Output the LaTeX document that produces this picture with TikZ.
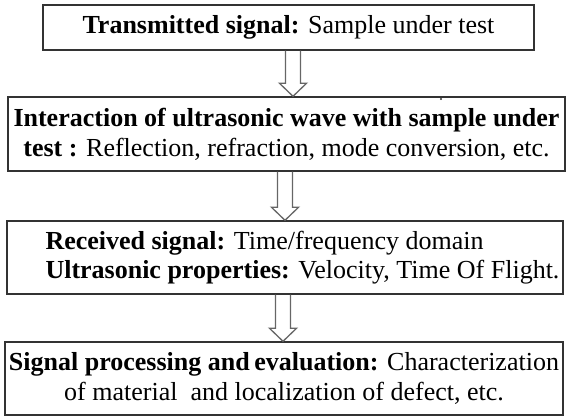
\documentclass[tikz,border=0pt]{standalone}
\usepackage{fontspec}
\setmainfont{Liberation Serif}
\usetikzlibrary{calc}
% hollow block arrow from the bottom of one box to the top of the next, at x = #3
\newcommand\hollowarrow[3]{%
  \draw[hollow] let \p1=(#1.south), \p2=(#2.north) in
    (#3-7.5,\y1) -- (#3-7.5,\y2+13) -- (#3-13.5,\y2+13) -- (#3,\y2)
    -- (#3+13.5,\y2+13) -- (#3+7.5,\y2+13) -- (#3+7.5,\y1);}
\begin{document}
\begin{tikzpicture}[x=1pt,y=1pt,
  box/.style={draw=black!80, line width=1.4pt, rectangle, inner sep=0pt,
    align=center, font=\fontsize{26}{30}\selectfont},
  boxtext/.style={inner sep=0pt, align=left, font=\fontsize{26}{29}\selectfont},
  hollow/.style={draw=black!60, line width=1.3pt, line join=miter}]
\useasboundingbox (0,0) rectangle (566,416);

\node[box, minimum width=491, minimum height=45] (b1) at (288.5,388.5)
  {\textbf{Transmitted signal:} Sample under test};

\node[box, minimum width=557, minimum height=74] (b2) at (286.5,282)
  {\textbf{Interaction of ultrasonic wave with sample under}\\
   \textbf{test :} Reflection, refraction, mode conversion, etc.};

\node[box, minimum width=556, minimum height=73] (b3) at (285,158.5) {};
\node[boxtext, anchor=west] (t3) at ($(b3.west)+(39,0)$)
  {\textbf{Received signal:} Time/frequency domain\\
   \textbf{Ultrasonic properties:} Velocity, Time Of Flight.};

\node[box, minimum width=558, minimum height=73] (b4) at (284,37.5)
  {\textbf{Signal processing and\kern-2pt\ evaluation:} Characterization\\
   of material\ \ and localization of defect, etc.};

% small stray dot above the first line of the second box
\fill[black!80] (441,317) circle (1.1);

\hollowarrow{b1}{b2}{293}
\hollowarrow{b2}{b3}{285}
\hollowarrow{b3}{b4}{283}
\end{tikzpicture}
\end{document}
